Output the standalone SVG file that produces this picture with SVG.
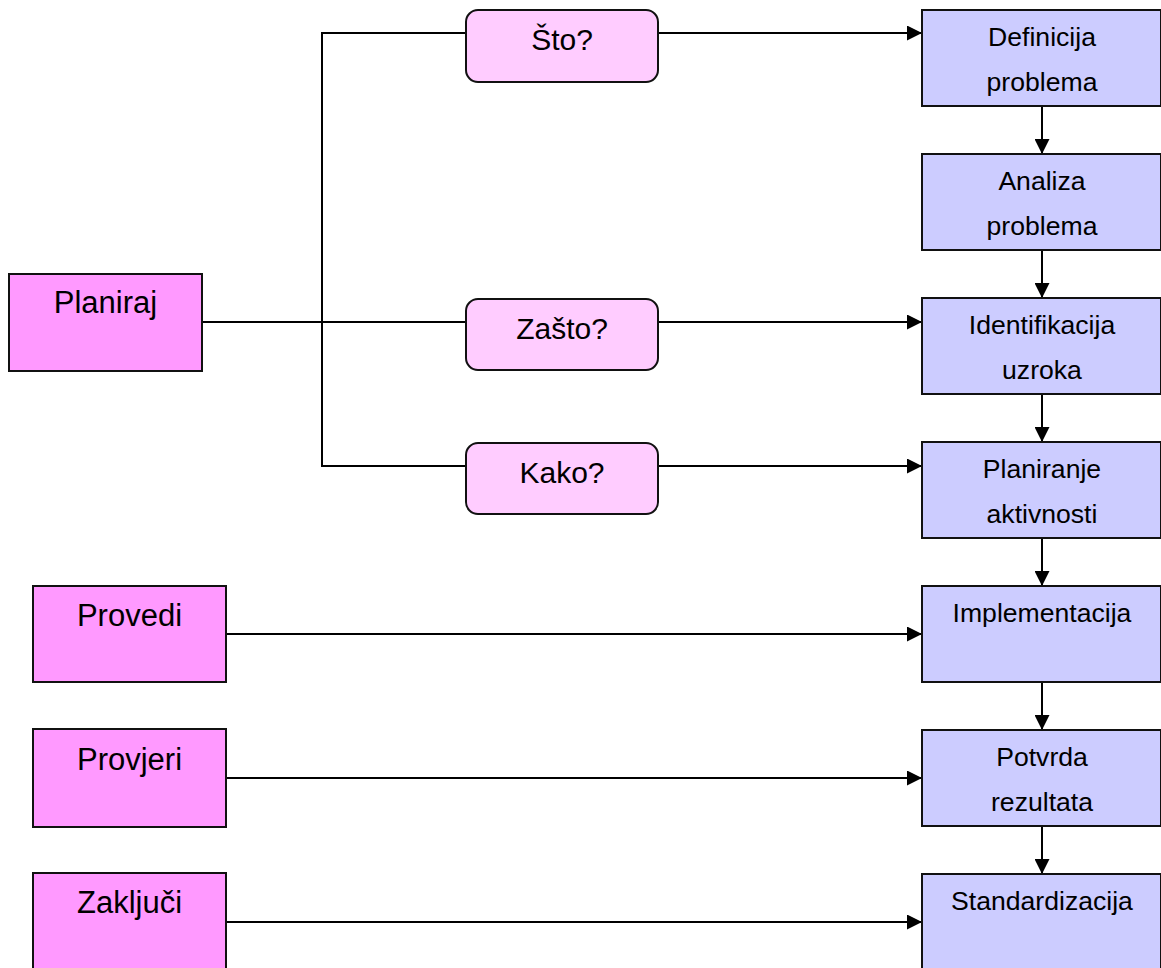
<svg xmlns="http://www.w3.org/2000/svg" width="1161" height="968" viewBox="0 0 1161 968">
<style>
text{font-family:"Liberation Sans",Arial,sans-serif;fill:#000;text-anchor:middle}
.phase rect{fill:#FF99FF;stroke:#111;stroke-width:2}
.phase text{font-size:31px}
.q rect{fill:#FFCCFF;stroke:#111;stroke-width:2}
.q text{font-size:30px}
.step rect{fill:#CCCCFF;stroke:#111;stroke-width:2}
.step text{font-size:26.6px}
#connectors path{fill:none;stroke:#000;stroke-width:2}
</style>
<defs>
<marker id="arr" markerUnits="userSpaceOnUse" markerWidth="15" markerHeight="15" refX="15" refY="7.5" orient="auto">
<path d="M0,0 L15,7.5 L0,15 z" fill="#000"/>
</marker>
</defs>
<g id="connectors">
<path d="M466,33 H322 V466 H466"/>
<path d="M202,322 H466"/>
<path d="M658,33 H922" marker-end="url(#arr)"/>
<path d="M658,322 H922" marker-end="url(#arr)"/>
<path d="M658,466 H922" marker-end="url(#arr)"/>
<path d="M226,634 H922" marker-end="url(#arr)"/>
<path d="M226,778 H922" marker-end="url(#arr)"/>
<path d="M226,922 H922" marker-end="url(#arr)"/>
<path d="M1042,106 V154" marker-end="url(#arr)"/>
<path d="M1042,250 V298" marker-end="url(#arr)"/>
<path d="M1042,394 V442" marker-end="url(#arr)"/>
<path d="M1042,538 V586" marker-end="url(#arr)"/>
<path d="M1042,682 V730" marker-end="url(#arr)"/>
<path d="M1042,826 V874" marker-end="url(#arr)"/>
</g>
<g id="planiraj" class="phase"><rect x="9" y="274" width="193" height="97"/><text x="105.5" y="313">Planiraj</text></g>
<g id="provedi" class="phase"><rect x="33" y="586" width="193" height="96"/><text x="129.5" y="626">Provedi</text></g>
<g id="provjeri" class="phase"><rect x="33" y="729" width="193" height="98"/><text x="129.5" y="770">Provjeri</text></g>
<g id="zakljuci" class="phase"><rect x="33" y="873" width="193" height="100"/><text x="129.5" y="913">Zaključi</text></g>
<g id="sto" class="q"><rect x="466" y="10" width="192" height="72" rx="12" ry="12"/><text x="562" y="50">Što?</text></g>
<g id="zasto" class="q"><rect x="466" y="299" width="192" height="71" rx="12" ry="12"/><text x="562" y="339">Zašto?</text></g>
<g id="kako" class="q"><rect x="466" y="443" width="192" height="71" rx="12" ry="12"/><text x="562" y="483">Kako?</text></g>
<g id="definicija" class="step"><rect x="922" y="10" width="239" height="96"/><text x="1042" y="46">Definicija</text><text x="1042" y="91">problema</text></g>
<g id="analiza" class="step"><rect x="922" y="154" width="239" height="96"/><text x="1042" y="190">Analiza</text><text x="1042" y="235">problema</text></g>
<g id="identifikacija" class="step"><rect x="922" y="298" width="239" height="96"/><text x="1042" y="334">Identifikacija</text><text x="1042" y="379">uzroka</text></g>
<g id="planiranje" class="step"><rect x="922" y="442" width="239" height="96"/><text x="1042" y="478">Planiranje</text><text x="1042" y="523">aktivnosti</text></g>
<g id="implementacija" class="step"><rect x="922" y="586" width="239" height="96"/><text x="1042" y="622">Implementacija</text></g>
<g id="potvrda" class="step"><rect x="922" y="730" width="239" height="96"/><text x="1042" y="766">Potvrda</text><text x="1042" y="811">rezultata</text></g>
<g id="standardizacija" class="step"><rect x="922" y="874" width="239" height="100"/><text x="1042" y="910">Standardizacija</text></g>
</svg>
